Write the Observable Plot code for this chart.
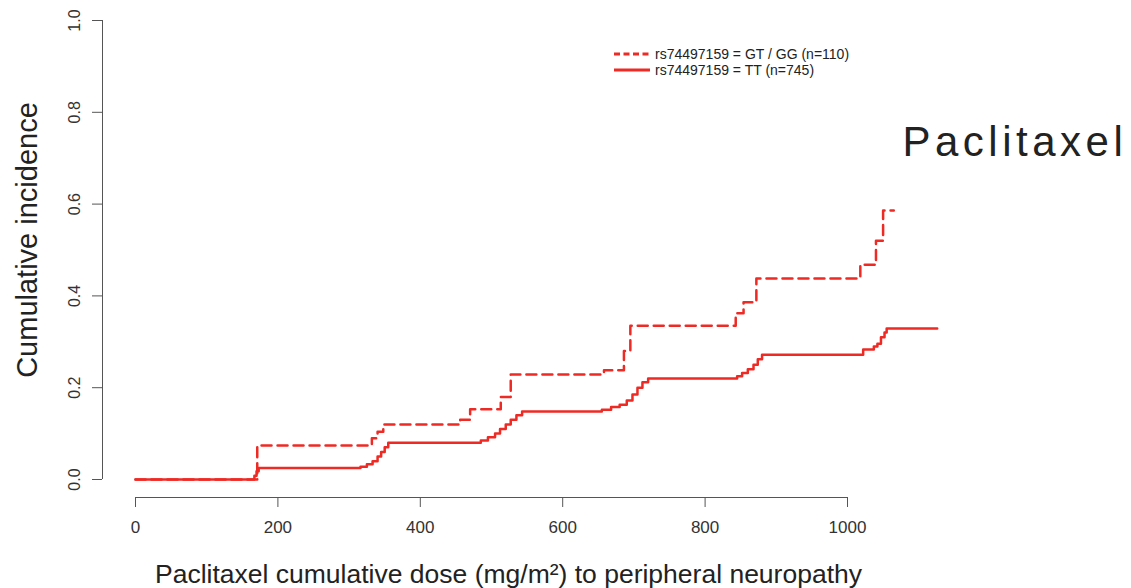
<!DOCTYPE html>
<html><head><meta charset="utf-8">
<script src="https://cdn.jsdelivr.net/npm/d3@7"></script>
<script src="https://cdn.jsdelivr.net/npm/@observablehq/plot@0.6"></script>
<style>
body{margin:0;background:#fff;}
#wrap{position:relative;width:1131px;height:588px;overflow:hidden;}
#legend{position:absolute;left:0;top:0;pointer-events:none;}
</style></head><body><div id="wrap"></div>
<script>
const xTicks = [0, 200, 400, 600, 800, 1000];
const yTicks = [0, 0.2, 0.4, 0.6, 0.8, 1.0];
const groups = ["rs74497159 = GT / GG (n=110)", "rs74497159 = TT (n=745)"];
const xLabel = "Paclitaxel cumulative dose (mg/m²) to peripheral neuropathy";
const yLabel = "Cumulative incidence";
const drugLabel = "Paclitaxel";

// GT / GG (dashed)
const doseGTGG = [0, 171, 332, 340, 348, 456, 470, 513, 527, 658, 686, 695, 843, 854, 872, 1018, 1040, 1050, 1065];
const incGTGG  = [0, 0.074, 0.09, 0.104, 0.12, 0.13, 0.153, 0.18, 0.229, 0.238, 0.28, 0.335, 0.362, 0.386, 0.438, 0.468, 0.52, 0.586, 0.586];
// TT (solid)
const doseTT = [0, 167, 170, 173, 316, 325, 333, 340, 345, 350, 355, 485, 495, 505, 512, 520, 527, 535, 543, 655, 668, 680, 690, 698, 705, 712, 720, 845, 852, 860, 868, 874, 880, 1022, 1037, 1042, 1047, 1052, 1055, 1126];
const incTT  = [0, 0.008, 0.018, 0.025, 0.028, 0.033, 0.04, 0.05, 0.06, 0.07, 0.08, 0.085, 0.092, 0.1, 0.11, 0.12, 0.13, 0.14, 0.148, 0.152, 0.158, 0.163, 0.172, 0.185, 0.2, 0.212, 0.22, 0.225, 0.232, 0.24, 0.25, 0.262, 0.272, 0.283, 0.29, 0.296, 0.31, 0.32, 0.329, 0.329];

const red = "#ee2a24";
const gt = doseGTGG.map((d, i) => ({dose: d, inc: incGTGG[i], group: groups[0]}));
const tt = doseTT.map((d, i) => ({dose: d, inc: incTT[i], group: groups[1]}));

const font = "'Liberation Sans', Arial, Helvetica, sans-serif";
const plot = Plot.plot({
  width: 1131, height: 588,
  marginLeft: 135, marginRight: 284, marginTop: 20, marginBottom: 109,
  x: {domain: [0, 1000]},
  y: {domain: [0, 1]},
  style: {fontFamily: font, background: "white", overflow: "visible"},
  marks: [
    Plot.ruleY([0], {x1: xTicks[0], x2: xTicks[xTicks.length - 1], dy: 18, stroke: "#555", strokeWidth: 1}),
    Plot.axisX(xTicks, {tickSize: 10, dy: 18, tickPadding: 13, fontSize: 17, stroke: "#555", fill: "#333", label: null, tickFormat: d => String(d)}),
    Plot.ruleX([0], {y1: yTicks[0], y2: yTicks[yTicks.length - 1], dx: -33, stroke: "#555", strokeWidth: 1}),
    Plot.axisY(yTicks, {tickSize: 10, dx: -33, tickRotate: -90, tickPadding: 13, fontSize: 16, stroke: "#555", fill: "#333", label: null, tickFormat: d => d.toFixed(1)}),
    Plot.line(tt, {x: "dose", y: "inc", curve: "step-after", stroke: red, strokeWidth: 2.5}),
    Plot.line(gt, {x: "dose", y: "inc", curve: "step-after", stroke: red, strokeWidth: 2.5, strokeDasharray: "10,6"}),
    Plot.text([yLabel], {frameAnchor: "left", textAnchor: "middle", lineAnchor: "middle", dx: -108, dy: -10, rotate: -90, fontSize: 29, fill: "#222"}),
    Plot.text([xLabel], {frameAnchor: "bottom", textAnchor: "middle", dx: 17, dy: 103, lineAnchor: "bottom", fontSize: 26.5, fill: "#222"}),
    Plot.text([drugLabel], {frameAnchor: "top-right", dx: 55, dy: 135, lineAnchor: "bottom", textAnchor: "start", fontSize: 42, fill: "#222"})
  ]
});
d3.select(plot).selectAll("text").filter(function(){ return this.textContent === drugLabel; })
  .attr("letter-spacing", "4.5px");
const wrap = document.getElementById("wrap");
wrap.appendChild(plot);

// legend overlay
const leg = d3.select(wrap).append("svg").attr("id", "legend").attr("width", 1131).attr("height", 588);
const rows = leg.selectAll("g").data(groups).join("g")
  .attr("transform", (d, i) => `translate(614,${54 + i * 16})`);
rows.append("line").attr("x1", 0).attr("x2", 36).attr("y1", 0).attr("y2", 0)
  .attr("stroke", red).attr("stroke-width", 3.2)
  .attr("stroke-dasharray", (d, i) => i === 0 ? "6,3.5" : null);
rows.append("text").attr("x", 41).attr("y", 4.6).text(d => d)
  .attr("font-family", font).attr("font-size", 14).attr("fill", "#222");
</script></body></html>
